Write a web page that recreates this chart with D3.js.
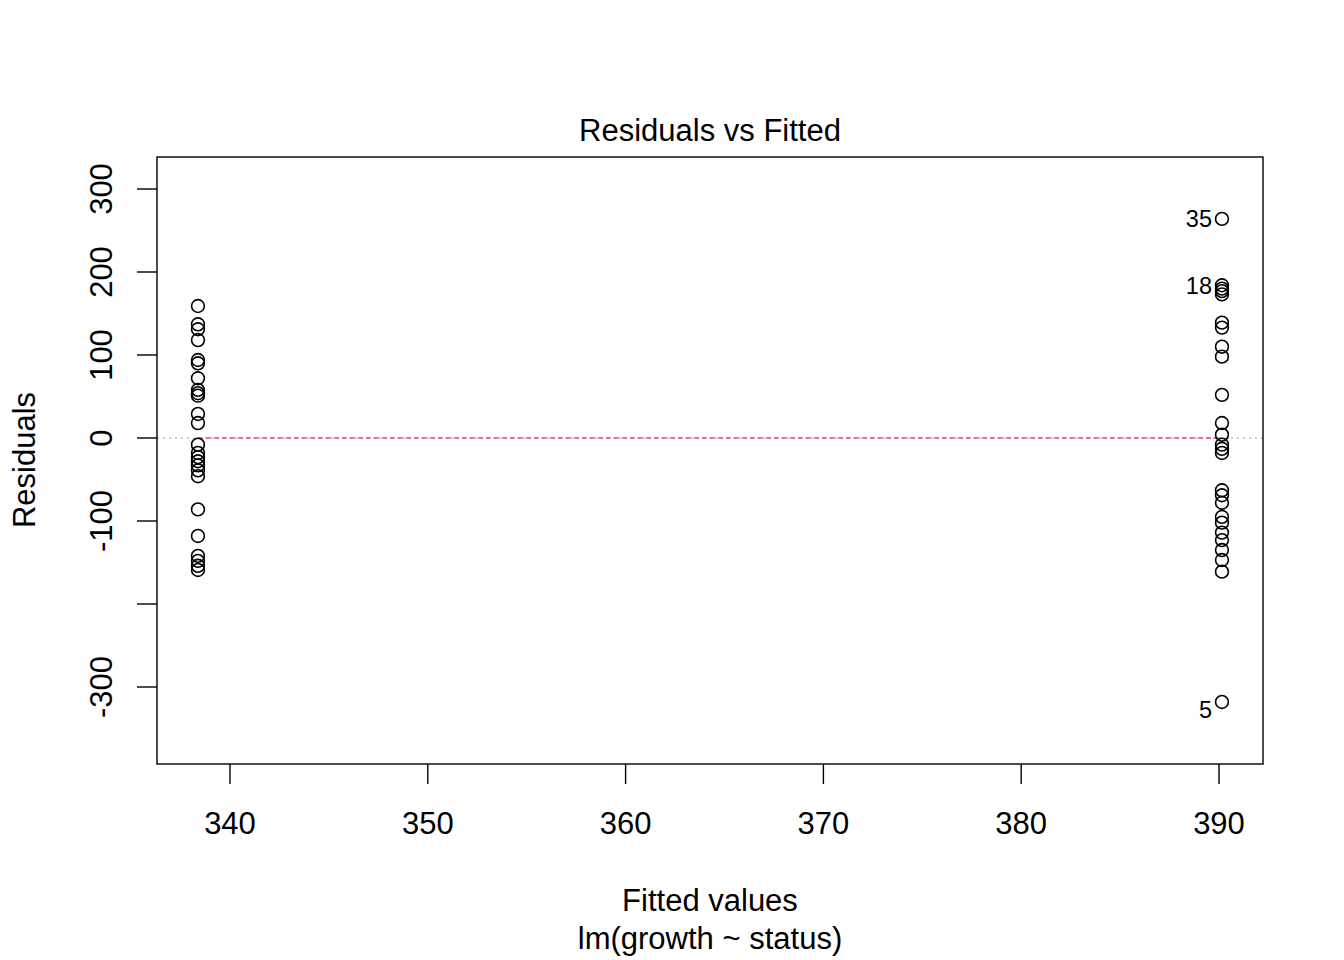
<!DOCTYPE html>
<html><head><meta charset="utf-8">
<script src="https://cdn.jsdelivr.net/npm/d3@7"></script>
<style>body{margin:0;background:#fff}svg{display:block}text{font-family:"Liberation Sans",Arial,sans-serif}</style>
</head><body>
<script>
const fittedLevels = [338.38, 390.15];
const residLeft = [159,137,131,118,94,90,72,58,54,51,29,18,-8,-18,-23,-28,-33,-39,-46,-86,-118,-142,-148,-154,-159];
const residRight = [264,184,180,177,173,139,133,110,98,52,18,4,-8,-13,-18,-63,-69,-78,-95,-102,-114,-123,-135,-147,-161,-318];
const pointLabels = [{id:"35", level:1, r:264},{id:"18", level:1, r:184},{id:"5", level:1, r:-318}];
const xTicks = [340,350,360,370,380,390];
const yTicks = [300,200,100,0,-100,-200,-300];
const yTickLabels = ["300","200","100","0","-100","","-300"];
const smoothX = [338.38, 390.15];
const smoothY = [0, 0];

const W=1344,H=960;
const svg=d3.select("body").append("svg").attr("width",W).attr("height",H);
const L=157,R=1263,T=157,B=764;
const x=d3.scaleLinear().domain([340,390]).range([230,1219]);
const y=d3.scaleLinear().domain([0,300]).range([438,189]);
const FS=31;

svg.append("line").attr("x1",L).attr("x2",R).attr("y1",y(0)).attr("y2",y(0))
  .attr("stroke","#BEBEBE").attr("stroke-width",1.3).attr("stroke-dasharray","2,4");
svg.append("path").datum(smoothX.map((v,i)=>[v,smoothY[i]]))
  .attr("d",d3.line().x(d=>x(d[0])).y(d=>y(d[1])))
  .attr("stroke","#DF536B").attr("stroke-width",1.3).attr("fill","none").attr("stroke-dasharray","5,3");

const pts=[];
residLeft.forEach(r=>pts.push([fittedLevels[0],r]));
residRight.forEach(r=>pts.push([fittedLevels[1],r]));
svg.append("g").selectAll("circle").data(pts).join("circle")
  .attr("cx",d=>x(d[0])).attr("cy",d=>y(d[1])).attr("r",6.4)
  .attr("fill","none").attr("stroke","#000").attr("stroke-width",1.6);

svg.append("g").selectAll("text").data(pointLabels).join("text")
  .attr("x",d=>x(fittedLevels[d.level])-10)
  .attr("y",d=>y(d.r)+(d.id==="5"?8:0))
  .attr("dy","0.35em").attr("text-anchor","end").attr("font-size",23.5).text(d=>d.id);

svg.append("rect").attr("x",L).attr("y",T).attr("width",R-L).attr("height",B-T)
  .attr("fill","none").attr("stroke","#000").attr("stroke-width",1.4);

const xa=svg.append("g");
xa.selectAll("line").data(xTicks).join("line").attr("x1",d=>x(d)).attr("x2",d=>x(d))
  .attr("y1",B).attr("y2",B+20).attr("stroke","#000").attr("stroke-width",1.4);
xa.selectAll("text").data(xTicks).join("text").attr("x",d=>x(d)).attr("y",834)
  .attr("text-anchor","middle").attr("font-size",FS).text(d=>d);
const ya=svg.append("g");
ya.selectAll("line").data(yTicks).join("line").attr("x1",L-20).attr("x2",L)
  .attr("y1",d=>y(d)).attr("y2",d=>y(d)).attr("stroke","#000").attr("stroke-width",1.4);
ya.selectAll("text").data(yTicks).join("text")
  .attr("transform",d=>`translate(112,${y(d)}) rotate(-90)`)
  .attr("text-anchor","middle").attr("font-size",FS).text((d,i)=>yTickLabels[i]);

svg.append("text").attr("x",710).attr("y",141).attr("text-anchor","middle").attr("font-size",FS).text("Residuals vs Fitted");
svg.append("text").attr("x",710).attr("y",911).attr("text-anchor","middle").attr("font-size",FS).text("Fitted values");
svg.append("text").attr("x",710).attr("y",949).attr("text-anchor","middle").attr("font-size",FS).text("lm(growth ~ status)");
svg.append("text").attr("transform","translate(35,460) rotate(-90)").attr("text-anchor","middle").attr("font-size",FS).text("Residuals");
</script>
</body></html>
